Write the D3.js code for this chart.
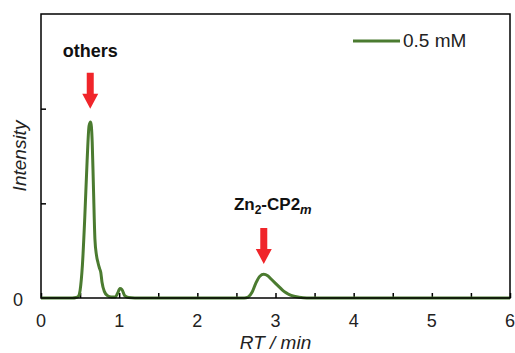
<!DOCTYPE html>
<html><head><meta charset="utf-8">
<script src="https://cdn.jsdelivr.net/npm/d3@7"></script>
<style>body{margin:0;background:#fff}svg{display:block}text{font-family:Arial,"Liberation Sans",sans-serif}</style>
</head><body>
<script>
// ---- data ----
const rt = [0,0.40,0.45,0.48,0.50,0.53,0.56,0.59,0.615,0.635,0.655,0.67,0.69,0.71,0.73,0.75,0.765,0.78,0.81,0.85,0.90,0.95,0.98,1.01,1.035,1.07,1.12,1.2,2.6,2.65,2.7,2.75,2.8,2.85,2.9,2.95,3.0,3.05,3.1,3.15,3.2,3.3,3.4,6];
const intensity = [0,0,0.005,0.02,0.08,0.35,0.85,1.45,1.82,1.86,1.65,1.2,0.62,0.45,0.37,0.31,0.27,0.17,0.07,0.025,0.01,0.01,0.05,0.10,0.09,0.025,0.005,0,0,0.01,0.06,0.16,0.23,0.25,0.235,0.195,0.155,0.115,0.075,0.048,0.027,0.008,0,0];
const xTicks = [0,0.5,1,1.5,2,2.5,3,3.5,4,4.5,5,5.5,6];
const xTickLabels = ["0","1","2","3","4","5","6"];
const yTicks = [0,1,2,3];
const yTickLabels = ["0"];
const seriesName = "0.5 mM";
const annotRT = [0.63, 2.85];
const annotTip = [2.0, 0.36];

const W=515,H=353;
const m={l:41,t:14,r:5,b:55};
const svg=d3.select("body").append("svg").attr("width",W).attr("height",H);
const x=d3.scaleLinear().domain([0,6]).range([m.l,W-m.r]);
const y=d3.scaleLinear().domain([0,3]).range([H-m.b,m.t]);
const green="#4b7b30", red="#f0252a";

const pts=rt.map((d,i)=>[d,intensity[i]]);
const line=d3.line().x(d=>x(d[0])).y(d=>y(d[1])).curve(d3.curveMonotoneX);

const gx=svg.append("g").attr("transform",`translate(0,${y(0)})`)
  .call(d3.axisBottom(x).tickValues(xTicks).tickSize(-5).tickFormat(""));
const gy=svg.append("g").attr("transform",`translate(${x(0)},0)`)
  .call(d3.axisLeft(y).tickValues(yTicks.slice(1,3)).tickSize(-5).tickFormat(""));
[gx,gy].forEach(g=>{g.select(".domain").remove();g.selectAll(".tick line").attr("stroke","#000").attr("stroke-width",1.5);});

svg.append("path").datum(pts).attr("d",line).attr("fill","none").attr("stroke",green).attr("stroke-width",3).attr("stroke-linejoin","round");

svg.append("rect").attr("x",x(0)).attr("y",y(3)).attr("width",x(6)-x(0)).attr("height",y(0)-y(3))
  .attr("fill","none").attr("stroke","#000").attr("stroke-width",1.5);

svg.selectAll(".xl").data(xTickLabels).enter().append("text")
  .attr("x",d=>x(+d)).attr("y",y(0)+29).attr("text-anchor","middle").attr("font-size",18).attr("fill","#222").text(d=>d);
svg.selectAll(".yl").data(yTickLabels).enter().append("text")
  .attr("x",x(0)-18).attr("y",d=>y(+d)+8).attr("text-anchor","end").attr("font-size",18).attr("fill","#222").text(d=>d);

svg.append("text").attr("x",(x(0)+x(6))/2).attr("y",H-4).attr("text-anchor","middle").attr("font-size",19).attr("font-style","italic").attr("fill","#222").text("RT / min");
svg.append("text").attr("transform",`translate(26,${(y(0)+y(3))/2}) rotate(-90)`).attr("text-anchor","middle").attr("font-size",19).attr("font-style","italic").attr("fill","#222").text("Intensity");

svg.append("line").attr("x1",353).attr("x2",400).attr("y1",41).attr("y2",41).attr("stroke",green).attr("stroke-width",3);
svg.append("text").attr("x",403).attr("y",47).attr("font-size",19).attr("fill","#222").text(seriesName);

annotRT.forEach((r,i)=>{
  const cx=x(r), tip=y(annotTip[i]);
  const p=d3.path();
  p.moveTo(cx-3.5,tip-36);p.lineTo(cx+3.5,tip-36);p.lineTo(cx+3.5,tip-15);p.lineTo(cx+8,tip-15);
  p.lineTo(cx,tip);p.lineTo(cx-8,tip-15);p.lineTo(cx-3.5,tip-15);p.closePath();
  svg.append("path").attr("d",p.toString()).attr("fill",red);
});

svg.append("text").attr("x",x(annotRT[0])).attr("y",57).attr("text-anchor","middle").attr("font-size",18).attr("font-weight","bold").attr("fill","#111").text("others");
const t2=svg.append("text").attr("x",x(annotRT[1])+9).attr("y",210).attr("text-anchor","middle").attr("font-size",17).attr("font-weight","bold").attr("fill","#111");
t2.append("tspan").text("Zn");
t2.append("tspan").attr("font-size",12).attr("dy",4).text("2");
t2.append("tspan").attr("dy",-4).text("-CP2");
t2.append("tspan").attr("font-size",13).attr("font-style","italic").attr("dy",4).text("m");
</script>
</body></html>
